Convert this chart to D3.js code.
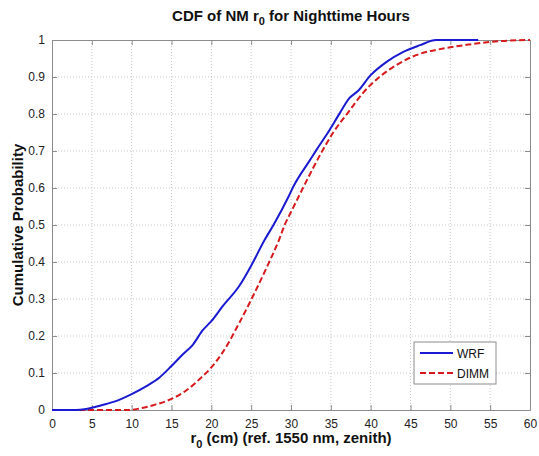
<!DOCTYPE html>
<html>
<head>
<meta charset="utf-8">
<script src="https://cdn.jsdelivr.net/npm/d3@7"></script>
<style>
  body { margin: 0; background: #fff; }
  text { font-family: "Liberation Sans", Arial, sans-serif; }
</style>
</head>
<body>
<div id="chart"></div>
<script>
// values
const wrfX = [0, 3, 4.3, 5, 6.8, 8.5, 10, 11.8, 13.5, 15, 16.4, 17.7, 18.9, 20, 21.4, 23.5, 25, 26.7, 27.8, 29.7, 30.3, 32.4, 33.2, 34.7, 36.2, 37.3, 38.4, 40, 42, 44.1, 46.2, 48.2, 53.5];
const wrfP = [0, 0, 0.003, 0.006, 0.016, 0.028, 0.043, 0.064, 0.088, 0.119, 0.15, 0.177, 0.215, 0.24, 0.28, 0.335, 0.39, 0.46, 0.5, 0.577, 0.604, 0.676, 0.703, 0.752, 0.805, 0.842, 0.862, 0.905, 0.941, 0.968, 0.986, 1, 1];

const dimmX = [0, 9.7, 11, 12.7, 15, 16.8, 18.5, 20, 21.4, 23.5, 25, 26.9, 28.5, 29.2, 30, 31.5, 34, 35.3, 37.2, 39, 41.1, 43.2, 45.7, 49.1, 52.4, 56.2, 60];
const dimmP = [0, 0, 0.004, 0.013, 0.03, 0.052, 0.083, 0.115, 0.155, 0.235, 0.298, 0.383, 0.46, 0.5, 0.535, 0.6, 0.703, 0.75, 0.805, 0.856, 0.9, 0.932, 0.959, 0.977, 0.988, 0.997, 1];

const xTicks = [0, 5, 10, 15, 20, 25, 30, 35, 40, 45, 50, 55, 60];
const yTicks = [0, 0.1, 0.2, 0.3, 0.4, 0.5, 0.6, 0.7, 0.8, 0.9, 1];
const seriesNames = ['WRF', 'DIMM'];

const width = 539, height = 456;
const margin = { top: 40, right: 9, bottom: 46, left: 52 };
const iw = width - margin.left - margin.right;
const ih = height - margin.top - margin.bottom;

const svg = d3.select('#chart').append('svg')
  .attr('width', width)
  .attr('height', height);

const g = svg.append('g').attr('transform', `translate(${margin.left},${margin.top})`);

const x = d3.scaleLinear().domain([0, 60]).range([0, iw]);
const y = d3.scaleLinear().domain([0, 1]).range([ih, 0]);

// dotted grid
g.append('g').selectAll('line')
  .data(xTicks.slice(1, -1)).enter().append('line')
  .attr('x1', d => x(d)).attr('x2', d => x(d))
  .attr('y1', 0).attr('y2', ih)
  .attr('stroke', '#c8c8c8').attr('stroke-width', 1)
  .attr('stroke-dasharray', '1,2');
g.append('g').selectAll('line')
  .data(yTicks.slice(1, -1)).enter().append('line')
  .attr('x1', 0).attr('x2', iw)
  .attr('y1', d => y(d)).attr('y2', d => y(d))
  .attr('stroke', '#c8c8c8').attr('stroke-width', 1)
  .attr('stroke-dasharray', '1,2');

// axes, ticks inside like matlab
g.append('g').attr('transform', `translate(0,${ih})`)
  .call(d3.axisBottom(x).tickValues(xTicks).tickSizeInner(-5).tickSizeOuter(0).tickPadding(9));
g.append('g')
  .call(d3.axisLeft(y).tickValues(yTicks).tickSizeInner(-5).tickSizeOuter(0).tickPadding(7).tickFormat(d3.format('~g')));
g.append('g')
  .call(d3.axisTop(x).tickValues(xTicks).tickSizeInner(-5).tickSizeOuter(0).tickFormat(''));
g.append('g').attr('transform', `translate(${iw},0)`)
  .call(d3.axisRight(y).tickValues(yTicks).tickSizeInner(-5).tickSizeOuter(0).tickFormat(''));

g.selectAll('.domain, .tick line').attr('stroke', '#8c8c8c');
g.selectAll('.tick text').attr('font-size', 12).attr('fill', '#222');

const line = d3.line()
  .x(d => x(d[0]))
  .y(d => y(d[1]))
  .curve(d3.curveMonotoneX);

g.append('path')
  .datum(dimmX.map((v, i) => [v, dimmP[i]]))
  .attr('fill', 'none')
  .attr('stroke', '#d7191c')
  .attr('stroke-width', 2)
  .attr('stroke-dasharray', '6,3')
  .attr('d', line);

g.append('path')
  .datum(wrfX.map((v, i) => [v, wrfP[i]]))
  .attr('fill', 'none')
  .attr('stroke', '#1a1ad2')
  .attr('stroke-width', 2)
  .attr('d', line);

// legend
const lg = svg.append('g').attr('transform', 'translate(414,342)');
lg.append('rect')
  .attr('width', 82).attr('height', 42)
  .attr('fill', '#fff').attr('stroke', '#8c8c8c');
const styles = [{ c: '#1a1ad2', dash: null }, { c: '#d7191c', dash: '6,3' }];
seriesNames.forEach((name, i) => {
  const yy = 11 + i * 20;
  lg.append('line')
    .attr('x1', 6).attr('x2', 39).attr('y1', yy).attr('y2', yy)
    .attr('stroke', styles[i].c).attr('stroke-width', 2)
    .attr('stroke-dasharray', styles[i].dash);
  lg.append('text')
    .attr('x', 43).attr('y', yy + 4.5)
    .attr('font-size', 12).attr('fill', '#111')
    .text(name);
});

// title
const title = svg.append('text')
  .attr('x', margin.left + iw / 2).attr('y', 21)
  .attr('text-anchor', 'middle')
  .attr('font-size', 15).attr('font-weight', 'bold').attr('fill', '#111');
title.append('tspan').text('CDF of NM r');
title.append('tspan').attr('font-size', 11).attr('dy', 4).text('0');
title.append('tspan').attr('dy', -4).text(' for Nighttime Hours');

// x label
const xl = svg.append('text')
  .attr('x', margin.left + iw / 2).attr('y', 443)
  .attr('text-anchor', 'middle')
  .attr('font-size', 15).attr('font-weight', 'bold').attr('fill', '#111');
xl.append('tspan').text('r');
xl.append('tspan').attr('font-size', 11).attr('dy', 5).text('0');
xl.append('tspan').attr('dy', -5).text(' (cm) (ref. 1550 nm, zenith)');

// y label
svg.append('text')
  .attr('transform', `translate(23,${margin.top + ih / 2}) rotate(-90)`)
  .attr('text-anchor', 'middle')
  .attr('font-size', 15).attr('font-weight', 'bold').attr('fill', '#111')
  .text('Cumulative Probability');
</script>
</body>
</html>
